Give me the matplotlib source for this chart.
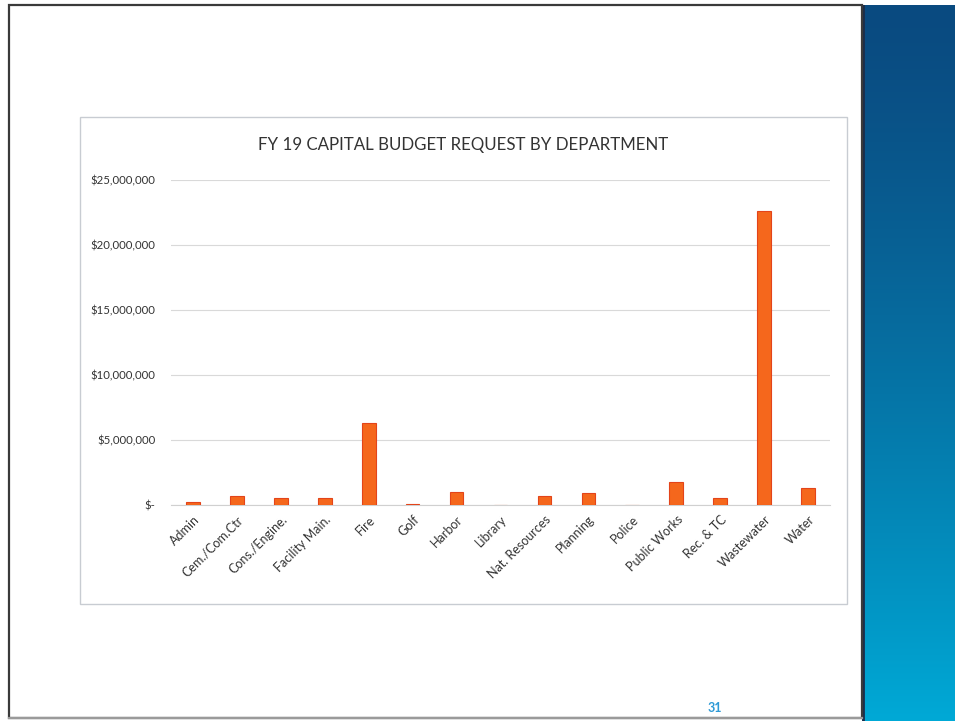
import matplotlib.pyplot as plt
import numpy as np
from matplotlib.patches import Rectangle
from matplotlib.ticker import FuncFormatter

# FY19 capital budget requests, by department (dollars)
departments = ["Admin", "Cem./Com.Ctr", "Cons./Engine.", "Facility Main.", "Fire",
               "Golf", "Harbor", "Library", "Nat. Resources", "Planning", "Police",
               "Public Works", "Rec. & TC", "Wastewater", "Water"]
requests = [230000, 720000, 560000, 560000, 6330000,
            100000, 1020000, 0, 700000, 960000, 0,
            1740000, 540000, 22600000, 1320000]

W, H = 955, 721
fig = plt.figure(figsize=(W / 100, H / 100), dpi=100)
plt.rcParams['font.family'] = ['Lato', 'DejaVu Sans']


def box(x0, y0, x1, y1, **kw):
    # pixel coords, origin top-left
    r = Rectangle((x0 / W, 1 - y1 / H), (x1 - x0) / W, (y1 - y0) / H,
                  transform=fig.transFigure, **kw)
    fig.patches.append(r)
    return r


# slide outline
box(9, 5, 862, 718, fill=False, edgecolor="#3a3a3a", linewidth=1.6)
fig.add_artist(plt.Line2D([9 / W, 862 / W], [1 - 718 / H] * 2, transform=fig.transFigure,
                          color="#9a9a9a", linewidth=1.6))

# blue side panel with vertical gradient
pax = fig.add_axes([862 / W, 0, 1 - 862 / W, 1 - 5 / H])
grad = np.linspace(0, 1, 256)[:, None] ** 1.3
top = np.array([0x0a, 0x4a, 0x80]) / 255
bot = np.array([0x00, 0xa9, 0xd6]) / 255
cols = top + (bot - top) * grad[..., None]
pax.imshow(cols, aspect="auto", extent=[0, 1, 0, 1])
pax.axvline(0.01, color="#1b2d4a", linewidth=2)
pax.set_axis_off()

# chart frame
box(80, 117, 847, 604, fill=False, edgecolor="#c8ccd2", linewidth=1.0)

ax = fig.add_axes([171 / W, 1 - 505 / H, (830 - 171) / W, (505 - 180) / H])
x = np.arange(len(departments))
ax.bar(x, requests, width=0.31, color="#f5671c", edgecolor="#e3441a", linewidth=0.8, zorder=3)
ax.set_xlim(-0.5, len(departments) - 0.5)
ax.set_ylim(0, 25000000)
ax.set_yticks(np.arange(0, 25000001, 5000000))
ax.yaxis.set_major_formatter(FuncFormatter(lambda v, p: "$-" if v == 0 else f"${v:,.0f}"))
ax.grid(axis="y", color="#d9d9d9", linewidth=0.8, zorder=0)
for s in ["top", "right", "left"]:
    ax.spines[s].set_visible(False)
ax.spines["bottom"].set_color("#d0d0d0")
ax.tick_params(axis="both", length=0, colors="#333333")
ax.tick_params(axis="y", pad=11, labelsize=8.2)
ax.set_xticks(x)
ax.set_xticklabels(departments, rotation=45, ha="right", rotation_mode="anchor")
ax.tick_params(axis="x", pad=6, labelsize=9)

fig.text(463 / W, 1 - 145 / H, "FY 19 CAPITAL BUDGET REQUEST BY DEPARTMENT",
         ha="center", va="center", fontsize=12.2, color="#333333")
fig.text(715 / W, 1 - 708 / H, "31", ha="center", va="center",
         fontsize=9, color="#2f9ad6", fontweight="bold")

fig.savefig("out.png", dpi=100)
